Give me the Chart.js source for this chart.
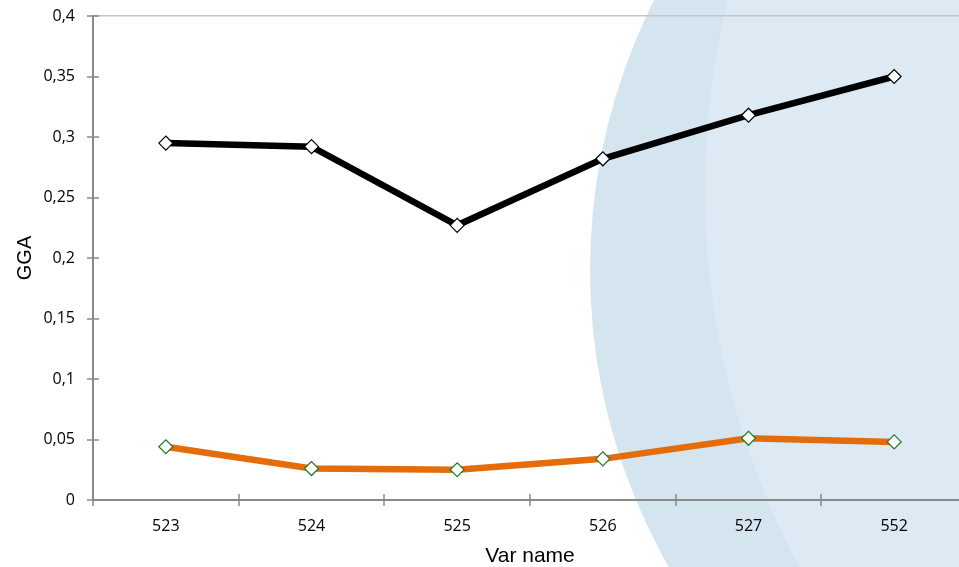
<!DOCTYPE html>
<html>
<head>
<meta charset="utf-8">
<script src="https://cdn.jsdelivr.net/npm/chart.js@4/dist/chart.umd.min.js"></script>
<style>
  html, body { margin: 0; padding: 0; overflow: hidden; background: #fff; }
  canvas { display: block; }
</style>
</head>
<body>
<canvas id="c" width="1000" height="567"></canvas>
<script>
// Categories on the x axis
const categories = ['523', '524', '525', '526', '527', '552'];

// GGA per variable, two series
const ggaUpper = [0.295, 0.292, 0.227, 0.282, 0.318, 0.350];
const ggaLower = [0.044, 0.026, 0.025, 0.034, 0.051, 0.048];

// Y axis ticks and their (comma-decimal) labels
const yTickValues = [0, 0.05, 0.1, 0.15, 0.2, 0.25, 0.3, 0.35, 0.4];
const yTickLabels = ['0', '0,05', '0,1', '0,15', '0,2', '0,25', '0,3', '0,35', '0,4'];

const AXIS_GREY = '#898989';

// Soft blue background shapes on the right side
const backdrop = {
  id: 'backdrop',
  beforeDraw(chart) {
    const ctx = chart.ctx;
    ctx.save();
    ctx.fillStyle = '#ffffff';
    ctx.fillRect(0, 0, chart.width, chart.height);
    ctx.fillStyle = '#d5e5f0';
    ctx.beginPath();
    ctx.arc(1190, 270, 600, 0, Math.PI * 2);
    ctx.fill();
    ctx.fillStyle = '#ddeaf4';
    ctx.beginPath();
    ctx.arc(1505, 190, 800, 0, Math.PI * 2);
    ctx.fill();
    ctx.restore();
  }
};

// Tick marks that cross the axis lines
const crossTicks = {
  id: 'crossTicks',
  beforeDatasetsDraw(chart) {
    const { ctx, scales: { x, y } } = chart;
    ctx.save();
    ctx.strokeStyle = AXIS_GREY;
    ctx.lineWidth = 1.5;
    ctx.beginPath();
    y.ticks.forEach((t, i) => {
      const py = Math.round(y.getPixelForTick(i));
      ctx.moveTo(y.right - 6, py);
      ctx.lineTo(y.right + 6, py);
    });
    const step = x.getPixelForTick(1) - x.getPixelForTick(0);
    for (let i = 0; i <= x.ticks.length; i++) {
      const px = Math.round(x.getPixelForTick(0) - step / 2 + i * step);
      ctx.moveTo(px, x.top - 6);
      ctx.lineTo(px, x.top + 6);
    }
    ctx.stroke();
    ctx.restore();
  }
};

new Chart(document.getElementById('c'), {
  type: 'line',
  data: {
    labels: categories,
    datasets: [
      {
        label: 'GGA 1',
        data: ggaUpper,
        borderColor: '#000000',
        borderWidth: 6.5,
        pointStyle: 'rectRot',
        pointRadius: 7,
        pointBackgroundColor: '#ffffff',
        pointBorderColor: '#000000',
        pointBorderWidth: 1.2,
        tension: 0
      },
      {
        label: 'GGA 2',
        data: ggaLower,
        borderColor: '#e46c0a',
        borderWidth: 6.5,
        pointStyle: 'rectRot',
        pointRadius: 7,
        pointBackgroundColor: '#ffffff',
        pointBorderColor: '#1f7a1f',
        pointBorderWidth: 1.2,
        tension: 0
      }
    ]
  },
  options: {
    responsive: false,
    animation: false,
    layout: { padding: { top: 16, right: 33, left: 0, bottom: 0 } },
    plugins: {
      legend: { display: false },
      tooltip: { enabled: false }
    },
    scales: {
      x: {
        type: 'category',
        offset: true,
        grid: { display: false, drawTicks: false },
        border: { color: AXIS_GREY, width: 2 },
        ticks: {
          color: '#000',
          font: { family: 'Open Sans', size: 16 },
          padding: 17,
          maxRotation: 0,
          autoSkip: false
        },
        title: {
          display: true,
          text: 'Var name',
          color: '#000',
          font: { family: 'Liberation Sans', size: 21 },
          padding: { top: 0, bottom: -2 }
        },
        afterFit(s) { s.height = 67; }
      },
      y: {
        min: 0,
        max: 0.4,
        afterBuildTicks(s) { s.ticks = yTickValues.map(v => ({ value: v })); },
        grid: {
          drawTicks: false,
          lineWidth: 1.5,
          color: c => (c.tick && c.tick.value === 0.4 ? '#c6c6c6' : 'rgba(0,0,0,0)')
        },
        border: { color: AXIS_GREY, width: 2 },
        ticks: {
          color: '#000',
          font: { family: 'Open Sans', size: 16 },
          padding: 18,
          callback: (v, i) => yTickLabels[i]
        },
        title: {
          display: true,
          text: 'GGA',
          color: '#000',
          font: { family: 'Liberation Sans', size: 20 },
          padding: { top: 13, bottom: 0 }
        },
        afterFit(s) {
          s.width = 93;
          s.paddingTop = 10;
          s.paddingBottom = 10;
        }
      }
    }
  },
  plugins: [backdrop, crossTicks]
});
</script>
</body>
</html>
